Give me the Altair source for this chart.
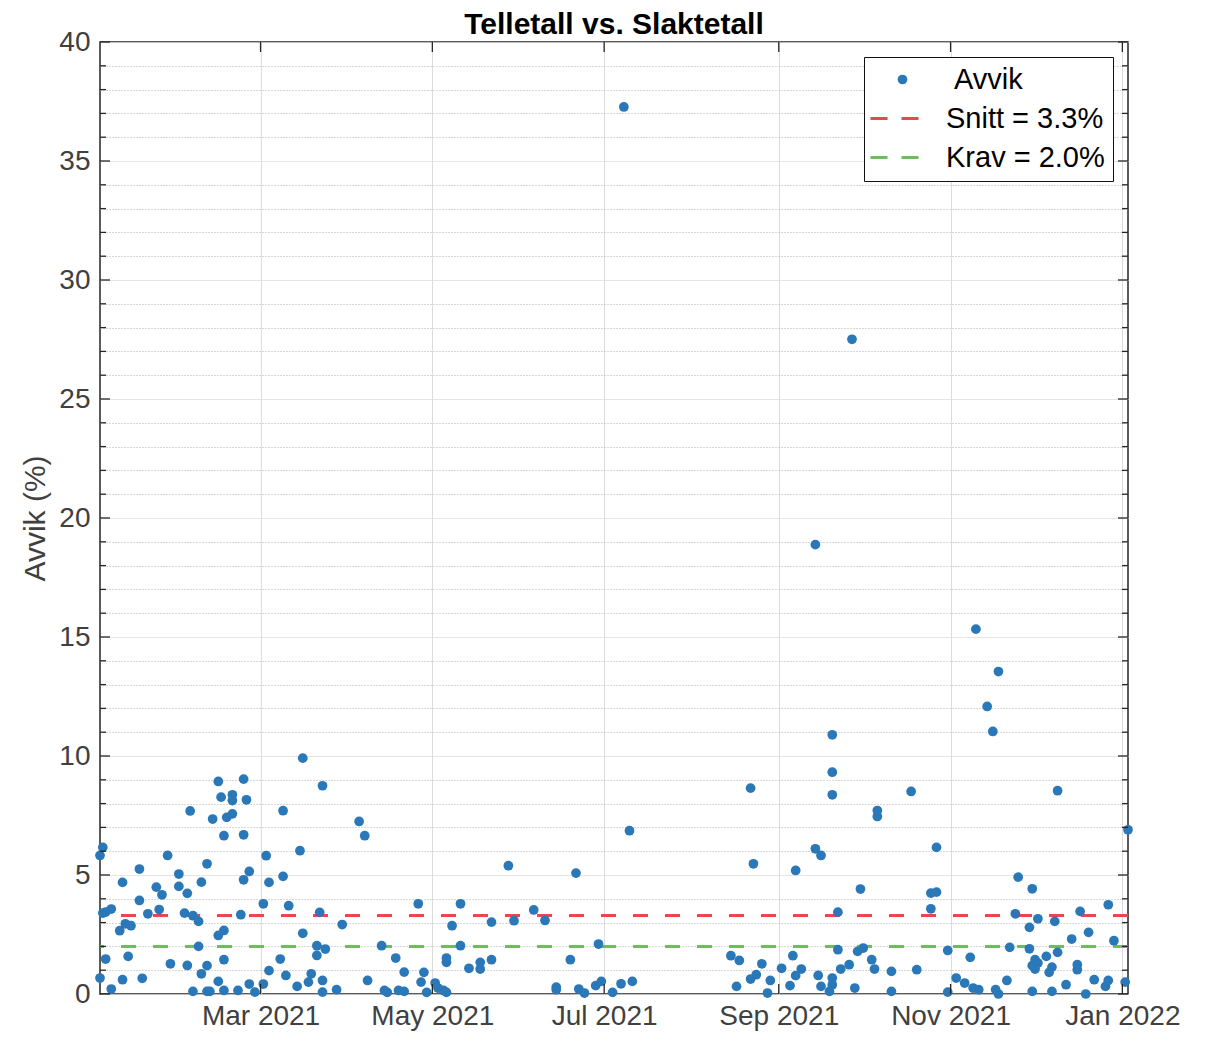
import altair as alt
import pandas as pd

# ---- data (day = days after 2021-01-01, avvik in %) ----
day = [2, 3, 2, 3, 4, 6, 4, 6, 9, 10, 10, 11, 13, 12, 16, 16, 17, 19, 22, 23, 24, 26, 27, 30, 30,
       33, 32, 33, 34, 35, 37, 37, 35, 38, 38, 40, 40, 40, 41, 42, 44, 45, 44, 44, 46, 47, 46, 46, 46,
       49, 49, 49, 51, 52, 53, 54, 53, 53, 55, 55, 57, 60, 60, 62, 61, 62, 66, 67, 67, 68, 69, 72, 73,
       74, 74, 76, 77, 79, 79, 80, 81, 81, 82, 81, 86, 88, 94, 96, 97,
       102, 103, 104, 107, 108, 110, 110, 115, 116, 117, 118, 121, 122, 124, 125, 125, 125, 127, 130,
       130, 133, 137, 137, 141, 141, 147, 149, 156, 160, 164, 164, 169, 171, 172, 174, 179, 178, 180,
       184, 187, 188, 190, 191,
       226, 229, 228, 233, 235, 233, 234, 237, 239, 240, 244, 247, 248, 249, 249, 251, 256, 258, 257,
       258, 256, 261, 262, 262, 262, 262, 262, 264, 264, 265, 268, 270, 271, 273, 272, 269, 276, 277,
       278, 278, 283, 283, 290, 292, 297, 299, 297, 299,
       303, 303, 306, 309, 311, 312, 314, 313, 317, 319, 321, 320, 321, 324, 325, 327, 328, 332, 332,
       333, 333, 333, 334, 334, 335, 335, 338, 339, 340, 340, 341, 342, 342, 345, 347, 349, 349, 350,
       352, 353, 355, 359, 360, 360, 362, 366, 367]
avvik = [5.82, 6.16, 0.67, 3.40, 3.44, 3.57, 1.47, 0.21, 2.66, 4.69, 0.60, 2.95, 2.87, 1.58, 5.25,
         3.93, 0.66, 3.37, 4.49, 3.55, 4.17, 5.82, 1.27, 5.04, 4.52, 4.23, 3.40, 1.20, 7.69, 3.29,
         3.05, 2.00, 0.11, 4.70, 0.85, 5.47, 1.19, 0.11, 0.11, 7.35, 8.93, 8.27, 2.46, 0.53, 6.65,
         7.42, 2.67, 1.44, 0.15, 8.37, 8.13, 7.57, 0.15, 3.33, 9.03, 8.16, 6.69, 4.80, 5.15, 0.42,
         0.08, 0.42, 3.79, 4.69, 5.81, 0.98, 1.47, 7.70, 4.94, 0.78, 3.71, 0.32, 6.02, 2.55, 9.91,
         0.50, 0.85, 2.03, 1.62, 3.43, 8.75, 0.57, 1.89, 0.08, 0.18, 2.92, 7.25, 6.65, 0.57,
         2.03, 0.15, 0.07, 1.51, 0.15, 0.11, 0.92, 3.79, 0.50, 0.91, 0.07, 0.46, 0.25, 0.15, 0.07,
         1.51, 1.33, 2.87, 3.79, 2.03, 1.08, 1.33, 1.05, 3.02, 1.44, 5.39, 3.08, 3.53, 3.09, 0.29,
         0.18, 1.44, 5.08, 0.21, 0.04, 2.10, 0.35, 0.53, 0.07, 0.43, 37.27, 6.86, 0.53,
         1.61, 1.41, 0.32, 0.63, 0.81, 8.65, 5.47, 1.27, 0.04, 0.57, 1.08, 0.35, 1.61, 5.19, 0.77,
         1.05, 6.10, 5.82, 0.78, 0.32, 18.88, 0.11, 0.67, 0.39, 10.89, 9.32, 8.37, 3.44, 1.86, 1.05,
         1.23, 0.25, 1.79, 1.93, 4.41, 27.51, 1.44, 1.05, 7.71, 7.46, 0.95, 0.11, 8.51, 1.02, 4.24,
         4.28, 3.58, 6.16,
         1.83, 0.08, 0.67, 0.46, 1.54, 0.25, 0.18, 15.33, 12.08, 11.03, 13.55, 0.18, 0.00, 0.57,
         1.96, 3.37, 4.91, 1.90, 2.80, 4.42, 0.11, 1.19, 1.44, 1.05, 1.30, 3.16, 1.58, 0.91, 1.13,
         0.11, 3.05, 8.54, 1.75, 0.39, 2.31, 1.23, 1.02, 3.47, 0.00, 2.59, 0.60, 0.32, 0.57, 3.75,
         2.24, 0.50, 6.90]

series_names = ["Avvik", "Snitt = 3.3%", "Krav = 2.0%"]
series_colors = ["#2a78b8", "#e8474b", "#6cbe5c"]
snitt = 3.3
krav = 2.0
y_ticks = list(range(0, 41))
x_tick_months = [(2021, 3), (2021, 5), (2021, 7), (2021, 9), (2021, 11), (2022, 1)]

FONT = "Liberation Sans"
W, H = 1028, 952
start = pd.Timestamp("2021-01-01")
df = pd.DataFrame({
    "dato": [start + pd.Timedelta(days=d) for d in day],
    "avvik": avvik,
    "serie": series_names[0],
})
lines_df = pd.DataFrame({"avvik": [snitt, krav], "serie": series_names[1:]})
ytick_df = pd.DataFrame({"avvik": y_ticks, "major": [v % 5 == 0 for v in y_ticks]})
xtick_df = pd.DataFrame({"dato": [pd.Timestamp(year=yy, month=mm, day=1) for yy, mm in x_tick_months]})

color_scale = alt.Scale(domain=series_names, range=series_colors)
IS_DOT = "datum.value === 'Avvik'"

legend = alt.Legend(
    title=None, orient="none", legendX=764, legendY=15, direction="vertical",
    fillColor="white", strokeColor="#111111", padding=8, rowPadding=9,
    labelFont=FONT, labelFontSize=29, labelColor="black", labelOffset=37,
    symbolOffset={"expr": f"{IS_DOT} ? 16 : 8"},
    symbolType={"expr": f"{IS_DOT} ? 'circle' : 'stroke'"},
    symbolSize={"expr": f"{IS_DOT} ? 95 : 2304"},
    symbolStrokeColor={"expr": "scale('color', datum.value)"},
    symbolFillColor={"expr": "scale('color', datum.value)"},
    symbolStrokeWidth={"expr": f"{IS_DOT} ? 0 : 3"},
    symbolDash={"expr": f"{IS_DOT} ? [1, 0] : [17, 14]"},
    symbolOpacity=1,
)

y_axis = alt.Axis(
    values=y_ticks, grid=True, ticks=False, domain=False, labelOverlap=False,
    labelExpr="datum.value % 5 === 0 ? datum.label : ''",
    gridDash={"condition": {"test": "datum.value % 5 !== 0", "value": [1, 2]}, "value": [1, 0]},
    gridColor={"condition": {"test": "datum.value % 5 !== 0", "value": "#b0b0b0"}, "value": "#dcdcdc"},
    labelFont=FONT, labelFontSize=28, labelColor="#404040", labelPadding=10,
    title="Avvik (%)", titleFont=FONT, titleFontSize=30, titleFontWeight="normal",
    titleColor="#404040", titlePadding=8,
)
x_axis = alt.Axis(
    values=[alt.DateTime(year=yy, month=mm, date=1) for yy, mm in x_tick_months],
    format="%b %Y", grid=True, gridColor="#dcdcdc", ticks=False, domain=False,
    labelFont=FONT, labelFontSize=28, labelColor="#404040", labelPadding=8,
    labelFlush=False, labelOverlap=False, title=None,
)

x_scale = alt.Scale(nice=False, padding=0)
y_enc = alt.Y("avvik:Q", scale=alt.Scale(domain=[0, 40], nice=False), axis=y_axis)
x_enc = alt.X("dato:T", scale=x_scale, axis=x_axis)

rules = alt.Chart(lines_df).mark_rule(strokeWidth=3, strokeDash=[15, 17]).encode(
    y=y_enc,
    color=alt.Color("serie:N", scale=color_scale, legend=legend),
)

points = alt.Chart(df).mark_circle(size=95, opacity=1).encode(
    x=x_enc,
    y=y_enc,
    color=alt.Color("serie:N", scale=color_scale, legend=legend),
)

# inward tick marks on the box (MATLAB style)
tick_col = "#262626"
ytick_layers = []
for xc in (0, W):
    sign = 1 if xc == 0 else -1
    ytick_layers.append(
        alt.Chart(ytick_df[ytick_df.major]).mark_tick(color=tick_col, thickness=1.3, size=10, opacity=1)
        .encode(y=y_enc, x=alt.value(xc + sign * 5))
    )
    ytick_layers.append(
        alt.Chart(ytick_df[~ytick_df.major]).mark_tick(color=tick_col, thickness=1.3, size=6, opacity=1)
        .encode(y=y_enc, x=alt.value(xc + sign * 3))
    )
xtick_layers = [
    alt.Chart(xtick_df).mark_tick(color=tick_col, thickness=1.3, size=10, opacity=1)
    .encode(x=x_enc, y=alt.value(yc))
    for yc in (5, H - 5)
]

chart = alt.layer(rules, points, *ytick_layers, *xtick_layers).properties(
    width=W, height=H,
    background="white",
    autosize=alt.AutoSizeParams(type="none"),
    padding={"left": 92, "top": 34, "right": 70, "bottom": 44},
    title=alt.TitleParams("Telletall vs. Slaktetall", font=FONT, fontSize=30,
                          fontWeight="bold", color="black", offset=8, anchor="middle",
                          frame="group", dy=20),
).configure_view(stroke="#262626", strokeWidth=1.5)

chart.save("out.html", embed_options={"renderer": "svg", "actions": False})
